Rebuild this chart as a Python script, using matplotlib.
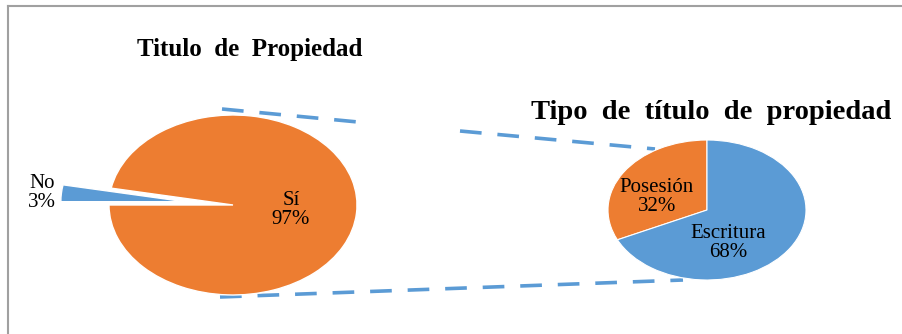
import matplotlib
import numpy as np

matplotlib.use("Agg")
import matplotlib.pyplot as plt


W, H = 902, 334

titulo_labels = ["No", "Sí"]
titulo_values = [3, 97]
tipo_labels = ["Posesión", "Escritura"]
tipo_values = [32, 68]

ORANGE = "#ED7D31"
BLUE = "#5B9BD5"
GRAY = "#A0A0A0"

plt.rcParams["font.family"] = ["Liberation Serif", "DejaVu Serif"]


def pixel_axes(fig):
    ax = fig.add_axes([0, 0, 1, 1])
    ax.set_xlim(0, W)
    ax.set_ylim(H, 0)
    ax.axis("off")
    ax.patch.set_alpha(0)
    return ax


def pie_axes(fig, cx, cy, rx, ry, box):
    # box = (left, top, right, bottom) in pixels; unit radius maps to rx, ry
    left, top, right, bottom = box
    ax = fig.add_axes([left / W, 1 - bottom / H, (right - left) / W, (bottom - top) / H])
    ax.axis("off")
    ax.patch.set_alpha(0)
    lims = ((left - cx) / rx, (right - cx) / rx), ((cy - bottom) / ry, (cy - top) / ry)
    return ax, lims


fig = plt.figure(figsize=(W / 100, H / 100), dpi=100)

# background layer: frame and connector lines
bg = pixel_axes(fig)
bg.plot([8, 8], [6, H], color=GRAY, lw=1.5)
bg.plot([8, 901], [6, 6], color=GRAY, lw=1.5)

dash = dict(color=BLUE, lw=2.6, linestyle=(0, (6.0, 4.4)), solid_capstyle="butt")
bg.plot([222, 358], [109, 122], **dash)
bg.plot([460, 655], [131, 149], **dash)
bg.plot([220, 683], [297, 280], **dash)

# left pie
ax1, (xl, yl) = pie_axes(fig, 233, 205, 124, 90, (0, 90, 400, 320))
ax1.pie(titulo_values, colors=[BLUE, ORANGE], startangle=180, counterclock=False,
        explode=[0.39, 0], wedgeprops=dict(edgecolor="white", linewidth=1.0))
ax1.set_xlim(*xl)
ax1.set_ylim(*yl)
ax1.set_aspect("auto")

# right pie
ax2, (xl, yl) = pie_axes(fig, 707, 210, 99, 70, (560, 130, 860, 290))
ax2.pie(tipo_values, colors=[ORANGE, BLUE], startangle=90, counterclock=True,
        wedgeprops=dict(edgecolor="white", linewidth=0.8))
ax2.set_xlim(*xl)
ax2.set_ylim(*yl)
ax2.set_aspect("auto")

# top layer: titles and data labels
top = pixel_axes(fig)
top.text(250, 56, "Titulo  de  Propiedad", ha="center", va="baseline",
         fontsize=18, fontweight="bold")
top.text(711, 119, "Tipo  de  título  de  propiedad", ha="center", va="baseline",
         fontsize=20.5, fontweight="bold")

label_pos = {"No": (42, 193), "Sí": (291, 210), "Posesión": (657, 197), "Escritura": (728, 243)}
for lab, val in list(zip(titulo_labels, titulo_values)) + list(zip(tipo_labels, tipo_values)):
    x, y = label_pos[lab]
    top.text(x, y, f"{lab}\n{val}%", ha="center", va="center", fontsize=15,
             linespacing=1.0)

fig.savefig("out.png", dpi=100)
